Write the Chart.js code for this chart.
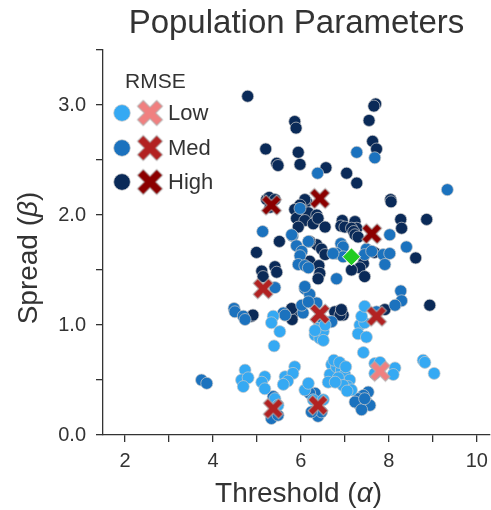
<!DOCTYPE html>
<html>
<head>
<meta charset="utf-8">
<script src="https://cdn.jsdelivr.net/npm/chart.js@4.4.0/dist/chart.umd.min.js"></script>
<style>
  html, body { margin: 0; padding: 0; background: #fff; }
  #wrap { width: 491px; height: 510px; position: relative; }
</style>
</head>
<body>
<div id="wrap"><canvas id="chart"></canvas></div>
<script>
const xTicks = [2, 3, 4, 5, 6, 7, 8, 9, 10];
const yTicks = [0, 0.5, 1, 1.5, 2, 2.5, 3, 3.5];
const rmseLevels = ['Low', 'Med', 'High'];

// fitted parameters, coloured by RMSE
const lowPts = [
  [5.37,1.08],[5.33,1.02],[5.52,0.94],[5.39,0.81],[6.39,0.97],[6.32,0.91],[6.43,0.88],
  [6.51,0.94],[6.55,1.00],[6.32,0.95],[6.51,0.86],[4.73,0.59],[4.65,0.50],[4.80,0.52],
  [4.69,0.44],[5.18,0.53],[5.11,0.48],[5.18,0.42],[5.64,0.53],[5.86,0.62],[5.82,0.56],
  [5.70,0.49],[5.60,0.46],[6.09,0.41],[6.17,0.47],[5.41,0.33],[5.48,0.27],[6.28,0.32],
  [6.51,0.32],[6.70,0.64],[6.66,0.55],[6.62,0.48],[7.34,1.00],[7.45,1.02],[7.30,0.92],
  [7.49,0.89],[7.38,1.08],[7.42,0.75],[7.45,1.17],[7.68,0.65],[7.80,0.66],[8.14,0.61],
  [8.10,0.55],[7.68,0.56],[8.78,0.68],[8.82,0.66],[9.03,0.56],[6.81,0.62],[6.92,0.59],
  [7.00,0.55],[7.11,0.50],[7.07,0.44],[6.85,0.52],[6.96,0.45],[7.15,0.41],[6.75,0.68],
  [6.88,0.66],[7.02,0.62],[7.05,0.40],[6.78,0.48]
];
const medPts = [
  [6.38,2.38],[7.27,2.57],[7.68,2.52],[9.33,2.23],[5.98,2.06],[5.13,1.85],[5.81,1.81],
  [6.17,1.76],[5.90,1.72],[6.02,1.67],[5.98,1.63],[5.94,1.55],[6.09,1.54],[6.17,1.52],
  [5.41,1.34],[6.09,1.33],[6.20,1.28],[4.48,1.15],[8.02,1.82],[6.91,1.74],[6.96,1.71],
  [6.81,1.65],[6.96,1.62],[6.73,1.65],[7.49,1.69],[7.45,1.64],[7.61,1.67],[7.87,1.64],
  [8.02,1.65],[7.91,1.55],[8.40,1.71],[6.81,1.42],[8.27,1.31],[8.29,1.22],[8.14,1.18],
  [4.50,1.12],[4.69,1.08],[4.73,1.05],[5.60,1.11],[5.64,1.09],[6.66,1.03],[6.05,1.11],
  [6.02,1.18],[6.70,1.03],[6.51,1.02],[6.09,1.35],[6.36,1.20],[6.17,1.21],[3.74,0.50],
  [3.86,0.47],[5.37,0.35],[5.33,0.15],[5.48,0.18],[6.32,0.38],[6.20,0.38],[6.39,0.17],
  [6.47,0.21],[6.24,0.21],[7.53,0.39],[7.42,0.36],[7.30,0.33],[7.49,0.30],[7.34,0.27],
  [7.23,0.30],[7.57,0.27],[7.38,0.23],[7.45,0.33],[5.79,1.82],[7.72,1.12]
];
const highPts = [
  [4.79,3.08],[5.86,2.85],[5.89,2.79],[5.20,2.60],[5.94,2.57],[5.45,2.47],[5.48,2.45],
  [5.98,2.46],[6.57,2.43],[7.70,3.01],[7.66,2.99],[7.55,2.86],[7.63,2.67],[7.72,2.60],
  [7.04,2.38],[7.27,2.29],[8.04,2.14],[5.22,2.14],[5.28,2.16],[5.41,2.14],[5.30,2.07],
  [6.13,2.12],[6.09,2.14],[5.98,2.09],[5.86,2.05],[6.02,2.05],[6.17,2.02],[6.36,2.00],
  [5.90,1.97],[6.09,1.95],[6.28,1.92],[6.39,1.97],[6.55,1.89],[5.94,1.89],[5.51,1.76],
  [6.36,1.73],[6.20,1.76],[6.47,1.69],[4.99,1.66],[6.20,1.58],[6.41,1.54],[6.43,1.47],
  [5.41,1.53],[5.45,1.48],[5.11,1.49],[5.14,1.44],[6.39,1.42],[6.94,1.95],[6.91,1.90],
  [7.00,1.89],[7.23,1.94],[7.27,1.88],[7.15,1.88],[7.20,1.85],[7.23,1.82],[7.30,1.80],
  [8.27,1.96],[8.29,1.88],[8.86,1.96],[7.67,1.66],[7.42,1.62],[6.55,1.64],[8.61,1.61],
  [7.42,1.56],[7.34,1.52],[7.15,1.50],[7.45,1.44],[8.93,1.18],[8.05,2.12],[4.88,1.08],
  [4.91,1.09],[5.83,1.11],[5.80,1.05],[5.79,1.15],[5.64,1.09],[6.77,1.12],[6.92,1.12],
  [6.96,1.09],[6.89,1.09],[7.91,1.14],[6.92,1.14]
];

// true population parameters (X markers) and the mean (diamond)
const trueLow = [[7.80,0.58]];
const trueMed = [[5.14,1.33],[6.43,1.10],[7.72,1.08],[5.37,0.24],[6.39,0.27]];
const trueHigh = [[5.33,2.09],[6.43,2.15],[7.61,1.83]];
const centerPt = [[7.15,1.62]];

const dotColors = ['#35a9f3', '#1b72be', '#0a2a58'];
const crossColors = ['#f08080', '#b22222', '#8b0000'];
const FONT = '"Liberation Sans", Arial, sans-serif';
const INK = '#333333';

function toXY(pts) {
  return pts.map(p => ({ x: p[0], y: p[1] }));
}

function xMarker(color, size) {
  const c = document.createElement('canvas');
  c.width = c.height = size + 4;
  const g = c.getContext('2d');
  const L = size * 0.544, w = size * 0.163;
  g.translate(c.width / 2, c.height / 2);
  g.rotate(Math.PI / 4);
  g.beginPath();
  [[-w,-L],[w,-L],[w,-w],[L,-w],[L,w],[w,w],[w,L],[-w,L],[-w,w],[-L,w],[-L,-w],[-w,-w]]
    .forEach((p, i) => i ? g.lineTo(p[0], p[1]) : g.moveTo(p[0], p[1]));
  g.closePath();
  g.fillStyle = color;
  g.fill();
  g.strokeStyle = 'rgba(175,175,175,0.95)';
  g.lineWidth = 1;
  g.stroke();
  return c;
}

function dotSet(label, pts, color) {
  return {
    label: label,
    data: toXY(pts),
    backgroundColor: color,
    borderColor: 'rgba(200,200,200,0.9)',
    borderWidth: 0.8,
    pointRadius: 6,
    order: 3
  };
}

function crossSet(label, pts, color) {
  return {
    label: label,
    data: toXY(pts),
    pointStyle: xMarker(color, 20),
    pointRadius: 10,
    order: 2
  };
}

// draw a label whose greek letter is italic
function mixedText(ctx, parts, size) {
  let total = 0;
  parts.forEach(p => {
    ctx.font = (p.italic ? 'italic ' : '') + size + 'px ' + FONT;
    p.w = ctx.measureText(p.t).width;
    total += p.w;
  });
  let x = -total / 2;
  parts.forEach(p => {
    ctx.font = (p.italic ? 'italic ' : '') + size + 'px ' + FONT;
    ctx.fillText(p.t, x, 0);
    x += p.w;
  });
}

const extras = {
  id: 'extras',
  afterDraw(chart) {
    const ctx = chart.ctx;
    const area = chart.chartArea;
    ctx.save();
    ctx.fillStyle = INK;
    ctx.textAlign = 'left';
    ctx.textBaseline = 'middle';

    // axis titles
    ctx.save();
    ctx.translate((area.left + area.right) / 2 + 2, 494);
    mixedText(ctx, [{ t: 'Threshold (' }, { t: 'α', italic: true }, { t: ')' }], 28);
    ctx.restore();
    ctx.save();
    ctx.translate(29, 258);
    ctx.rotate(-Math.PI / 2);
    mixedText(ctx, [{ t: 'Spread (' }, { t: 'β', italic: true }, { t: ')' }], 28);
    ctx.restore();

    // legend
    ctx.font = '21px ' + FONT;
    ctx.fillText('RMSE', 125, 82);
    const rowY = [113, 148, 182];
    rmseLevels.forEach((name, i) => {
      const y = rowY[i];
      ctx.beginPath();
      ctx.arc(122, y, 8.3, 0, Math.PI * 2);
      ctx.fillStyle = dotColors[i];
      ctx.fill();
      ctx.strokeStyle = 'rgba(200,200,200,0.9)';
      ctx.lineWidth = 0.8;
      ctx.stroke();
      const img = xMarker(crossColors[i], 25);
      ctx.drawImage(img, 150 - img.width / 2, y - img.height / 2);
      ctx.fillStyle = INK;
      ctx.font = '22px ' + FONT;
      ctx.fillText(name, 168, y + 1);
    });
    ctx.restore();
  }
};

new Chart(document.getElementById('chart'), {
  type: 'scatter',
  data: {
    datasets: [
      dotSet('Low', lowPts, dotColors[0]),
      dotSet('Med', medPts, dotColors[1]),
      dotSet('High', highPts, dotColors[2]),
      crossSet('True Low', trueLow, crossColors[0]),
      crossSet('True Med', trueMed, crossColors[1]),
      crossSet('True High', trueHigh, crossColors[2]),
      {
        label: 'Mean',
        data: toXY(centerPt),
        pointStyle: 'rectRot',
        pointRadius: 9,
        backgroundColor: '#22cc22',
        borderColor: '#ffffff',
        borderWidth: 1,
        order: 1
      }
    ]
  },
  options: {
    responsive: true,
    maintainAspectRatio: false,
    animation: false,
    layout: { autoPadding: false, padding: { left: 0, right: 1, top: 0, bottom: 0 } },
    plugins: {
      legend: { display: false },
      tooltip: { enabled: false },
      title: {
        display: true,
        text: 'Population Parameters',
        fullSize: false,
        color: INK,
        font: { family: FONT, size: 33, weight: 'normal' },
        padding: { top: 4, bottom: 6.4 }
      }
    },
    scales: {
      x: {
        type: 'linear',
        min: 1.5,
        max: 10.3,
        afterBuildTicks: s => { s.ticks = xTicks.map(v => ({ value: v })); },
        afterFit: s => {
          s.height = 75;
          s.paddingLeft = 0;
          s.paddingRight = 0;
          if (s._margins) s._margins.right = 1;
        },
        border: { display: true, color: INK, width: 1.3 },
        grid: { drawOnChartArea: false, drawTicks: true, tickLength: 7, color: INK, lineWidth: 1.3 },
        ticks: {
          autoSkip: false,
          maxRotation: 0,
          padding: 7,
          color: INK,
          font: { family: FONT, size: 20 },
          callback: v => (v % 2 === 0 ? String(v) : '')
        }
      },
      y: {
        type: 'linear',
        min: 0,
        max: 3.5,
        afterBuildTicks: s => { s.ticks = yTicks.map(v => ({ value: v })); },
        afterFit: s => { s.width = 103; s.paddingTop = 0; s.paddingBottom = 0; },
        border: { display: true, color: INK, width: 1.3 },
        grid: { drawOnChartArea: false, drawTicks: true, tickLength: 7, color: INK, lineWidth: 1.3 },
        ticks: {
          autoSkip: false,
          padding: 10,
          color: INK,
          font: { family: FONT, size: 20 },
          callback: v => (v % 1 === 0 ? v.toFixed(1) : '')
        }
      }
    }
  },
  plugins: [extras]
});
</script>
</body>
</html>
